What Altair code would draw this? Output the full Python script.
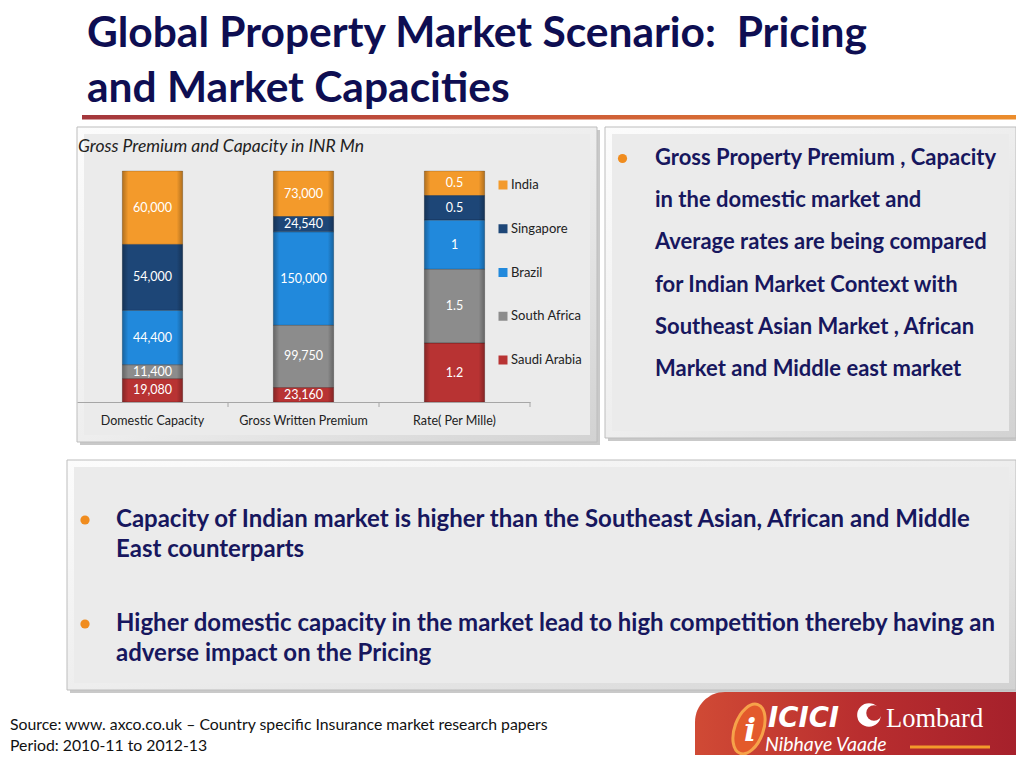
import altair as alt
import pandas as pd

# ---------------- data ----------------
categories = ["Domestic Capacity", "Gross Written Premium", "Rate( Per Mille)"]
countries = ["India", "Singapore", "Brazil", "South Africa", "Saudi Arabia"]
domestic_capacity = [60000, 54000, 44400, 11400, 19080]
gross_written_premium = [73000, 24540, 150000, 99750, 23160]
rate_per_mille = [0.5, 0.5, 1, 1.5, 1.2]
country_colors = ["#F39A2B", "#1D4677", "#2189DC", "#8C8C8C", "#B83333"]

title_lines = ["Global Property Market Scenario:\u00a0 Pricing", "and Market Capacities"]
chart_caption = "Gross Premium and Capacity in INR Mn"
side_lines = [
    "Gross Property Premium , Capacity",
    "in the domestic market and",
    "Average rates are being compared",
    "for Indian Market Context with",
    "Southeast Asian Market , African",
    "Market and Middle east market",
]
bullet_one = [
    "Capacity of Indian market is higher than the Southeast Asian, African and Middle",
    "East counterparts",
]
bullet_two = [
    "Higher domestic capacity in the market lead to high competition thereby having an",
    "adverse impact on the Pricing",
]
source_lines = [
    "Source: www. axco.co.uk \u2013 Country specific Insurance market research papers",
    "Period: 2010-11 to 2012-13",
]


def fmt(v, cat):
    if cat == "Rate( Per Mille)":
        return f"{v:g}"
    return f"{int(v):,}"


rows = []
for cat, vals in zip(categories, [domestic_capacity, gross_written_premium, rate_per_mille]):
    for i, (c, v) in enumerate(zip(countries, vals)):
        rows.append({"metric": cat, "country": c, "value": v,
                     "label": fmt(v, cat), "stack_rank": len(countries) - 1 - i})
df = pd.DataFrame(rows)

# ---------------- layout helpers (page px -> plot px) ----------------
OX, OY = 77, 171
PW, PH = 453, 231
TOTAL_W, TOTAL_H = 1008, 747
one = pd.DataFrame({"k": [0]})
NAVY = "#17175E"
FONT = "Lato"


def rect(x1, x2, y1, y2, **kw):
    return alt.Chart(one).mark_rect(**kw).encode(
        x=alt.value(x1 - OX), x2=alt.value(x2 - OX),
        y=alt.value(y1 - OY), y2=alt.value(y2 - OY))


def text(x, y, t, **kw):
    return alt.Chart(one).mark_text(text=t, **kw).encode(
        x=alt.value(x - OX), y=alt.value(y - OY))


def dot(x, y, size, **kw):
    return alt.Chart(one).mark_circle(size=size, opacity=1, **kw).encode(
        x=alt.value(x - OX), y=alt.value(y - OY))


def grad(stops, x1=0, y1=0, x2=1, y2=1):
    return alt.LinearGradient(
        gradient="linear",
        stops=[alt.GradientStop(color=c, offset=o) for o, c in stops],
        x1=x1, y1=y1, x2=x2, y2=y2)


def bevel_box(x1, x2, y1, y2):
    return [
        rect(x1 + 3, x2 + 3, y1 + 3, y2 + 3, fill="#C9C9C9"),
        rect(x1, x2, y1, y2, fill=grad([(0, "#FCFCFC"), (0.5, "#EEEEEE"), (1, "#D2D2D2")]),
             stroke="#BDBDBD", strokeWidth=1),
        rect(x1 + 7, x2 - 7, y1 + 7, y2 - 7, fill="#EBEBEB"),
    ]


# ---------------- chart ----------------
base = alt.Chart(df).transform_stack(
    stack="value", groupby=["metric"], as_=["y0", "y1"], offset="normalize",
    sort=[alt.SortField("stack_rank", order="ascending")]
).transform_calculate(ymid="(datum.y0 + datum.y1) / 2")

xenc = alt.X("metric:N", sort=categories,
             scale=alt.Scale(paddingInner=0.6, paddingOuter=0.3),
             axis=alt.Axis(title=None, labelAngle=0, ticks=False, tickSize=0,
                           labelPadding=12, labelFont=FONT, labelFontSize=12.5,
                           labelColor="#222222", domainColor="#A6A6A6",
                           grid=False, labelLimit=300, zindex=1))
yscale = alt.Scale(domain=[0, 1], nice=False, zero=True)
cscale = alt.Scale(domain=countries, range=country_colors)

bars = base.mark_bar().encode(
    x=xenc,
    y=alt.Y("y0:Q", scale=yscale, axis=None), y2="y1:Q",
    color=alt.Color("country:N", scale=cscale, legend=None))

bar_bevel = base.mark_bar(
    fill=grad([(0, "rgba(0,0,0,0.28)"), (0.1, "rgba(0,0,0,0.0)"),
               (0.9, "rgba(0,0,0,0.0)"), (1, "rgba(0,0,0,0.28)")], 0, 0, 1, 0),
    stroke="rgba(0,0,0,0.18)", strokeWidth=1).encode(
    x=xenc, y=alt.Y("y0:Q", scale=yscale, axis=None), y2="y1:Q")

bar_labels = base.mark_text(color="white", font=FONT, fontSize=12.5).encode(
    x=xenc, y=alt.Y("ymid:Q", scale=yscale, axis=None), text="label:N")

leg_df = pd.DataFrame({"country": countries})
leg_y = alt.Y("country:N", sort=countries,
              scale=alt.Scale(type="point", domain=countries, range=[14, 189], padding=0),
              axis=None)
legend_sq = alt.Chart(leg_df).mark_square(size=81, opacity=1).encode(
    x=alt.value(503 - OX), y=leg_y,
    color=alt.Color("country:N", scale=cscale, legend=None))
legend_tx = alt.Chart(leg_df).mark_text(align="left", baseline="middle", font=FONT,
                                        fontSize=13, color="#222222").encode(
    x=alt.value(511 - OX), y=leg_y, text="country:N")

ticks = [alt.Chart(one).mark_rule(color="#A6A6A6").encode(
    x=alt.value(px - OX), y=alt.value(PH), y2=alt.value(PH + 5)) for px in (228, 379, 530)]

# ---------------- slide decorations ----------------
layers = []
layers += bevel_box(77, 597, 127, 442)
layers += bevel_box(605, 1016, 127, 438)
layers += bevel_box(67, 1016, 460, 690)

layers.append(rect(82, 1024, 115, 119.5,
                   fill=grad([(0, "#A4373C"), (0.45, "#C9553A"), (1, "#EC8E2C")], 0, 0, 1, 0)))
layers.append(text(87, 47, title_lines, align="left", baseline="alphabetic", font=FONT,
                   fontSize=42.5, fontWeight="bold", color="#0E0E52", lineHeight=55))
layers.append(text(78, 151.5, chart_caption, align="left", baseline="alphabetic", font=FONT,
                   fontSize=17.5, fontStyle="italic", color="#222222"))

layers.append(dot(622.5, 158.5, 85, color="#F08C1E"))
layers.append(text(655, 165, side_lines, align="left", baseline="alphabetic", font=FONT,
                   fontSize=22, fontWeight="bold", color=NAVY, lineHeight=42.2))

layers.append(dot(85, 520, 85, color="#F08C1E"))
layers.append(text(116, 527, bullet_one, align="left", baseline="alphabetic", font=FONT,
                   fontSize=24, fontWeight="bold", color=NAVY, lineHeight=30))
layers.append(dot(85, 624, 85, color="#F08C1E"))
layers.append(text(116, 630.5, bullet_two, align="left", baseline="alphabetic", font=FONT,
                   fontSize=24, fontWeight="bold", color=NAVY, lineHeight=30))

layers.append(text(10, 730, source_lines, align="left", baseline="alphabetic", font=FONT,
                   fontSize=15.8, color="#111111", lineHeight=20.5))

# logo block
ellipse = "M0,-1 A0.55,1 0 1,1 0,1 A0.55,1 0 1,1 0,-1 Z"
layers.append(rect(695, 1024, 692, 760, cornerRadiusTopLeft=30,
                   fill=grad([(0, "#D04A35"), (0.5, "#B92E2F"), (1, "#A5202B")], 0, 0, 1, 0)))
layers.append(alt.Chart(one).mark_point(shape=ellipse, filled=True, size=2700, angle=20,
                                        color="#E35A2B", opacity=1, stroke="#F6A24A",
                                        strokeWidth=3).encode(
    x=alt.value(749 - OX), y=alt.value(729 - OY)))
layers.append(text(750, 731, "i", align="center", baseline="middle", font="DejaVu Serif",
                   fontSize=32, fontWeight="bold", fontStyle="italic", color="white"))
layers.append(text(768, 726.5, "ICICI", align="left", baseline="alphabetic", font="DejaVu Sans",
                   fontSize=27.5, fontWeight="bold", fontStyle="italic", color="white"))
layers.append(dot(869, 715, 560, color="white"))
layers.append(dot(874, 713, 240, color="#B92E2F"))
layers.append(text(886, 727, "Lombard", align="left", baseline="alphabetic", font="Liberation Serif",
                   fontSize=26.5, color="white"))
layers.append(text(765, 751, "Nibhaye Vaade", align="left", baseline="alphabetic", font=FONT,
                   fontSize=19.5, fontStyle="italic", color="white"))
layers.append(rect(910, 990, 745.5, 748.5, fill="#F39A2B"))

layers += [bars, bar_bevel, bar_labels, legend_sq, legend_tx] + ticks

chart = alt.layer(*layers).resolve_scale(y="independent").properties(
    width=PW, height=PH,
    padding={"left": OX - 8, "top": OY - 8, "right": TOTAL_W - (OX - 8) - PW,
             "bottom": TOTAL_H - (OY - 8) - PH},
    autosize=alt.AutoSizeParams(type="none"),
    background="white",
).configure_view(stroke=None)

chart.save("out.html", embed_options={"renderer": "svg", "actions": False})
